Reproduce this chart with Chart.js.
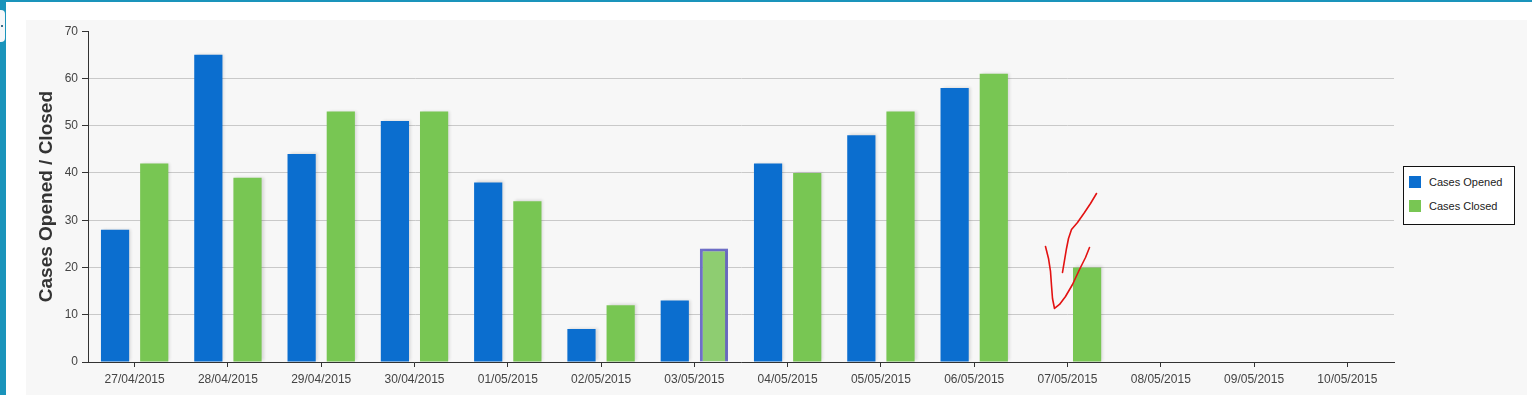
<!DOCTYPE html>
<html>
<head>
<meta charset="utf-8">
<script src="https://cdn.jsdelivr.net/npm/chart.js@4.4.1/dist/chart.umd.min.js"></script>
<style>
  html, body { margin: 0; padding: 0; background: #ffffff; width: 1532px; height: 395px; overflow: hidden; position: relative; font-family: "Liberation Sans", Arial, sans-serif; }
  #topbar { position: absolute; left: 0; top: 0; width: 1532px; height: 2px; background: #1a94bb; }
  #leftbar { position: absolute; left: 0; top: 0; width: 6px; height: 395px; background: #1a94bb; }
  #tab { position: absolute; left: 0; top: 10px; width: 5px; height: 32px; background: #f4f7f9; border-radius: 0 4px 4px 0; }
  #tab::after { content: ""; position: absolute; left: 1px; top: 15px; width: 2px; height: 2px; background: #3a6e8a; }
  #panel { position: absolute; left: 26px; top: 20px; width: 1501px; height: 375px; background: #f7f7f7; }
  #chart { position: absolute; left: 0; top: 0; }
  #legend { position: absolute; left: 1377px; top: 146px; width: 110px; height: 57px; border: 1px solid #111; background: #ffffff; }
  .item { position: absolute; left: 5px; height: 14px; font-size: 11px; color: #222; line-height: 14px; white-space: nowrap; }
  .sw { display: inline-block; width: 12px; height: 12px; vertical-align: -2px; margin-right: 8px; }
</style>
</head>
<body>
<div id="topbar"></div>
<div id="leftbar"></div>
<div id="tab"></div>
<div id="panel">
  <canvas id="chart" width="1501" height="375"></canvas>
  <div id="legend"></div>
</div>
<script>
const categories = ["27/04/2015","28/04/2015","29/04/2015","30/04/2015","01/05/2015","02/05/2015","03/05/2015","04/05/2015","05/05/2015","06/05/2015","07/05/2015","08/05/2015","09/05/2015","10/05/2015"];
const seriesNames = ["Cases Opened", "Cases Closed"];
const casesOpened = [28, 65, 44, 51, 38, 7, 13, 42, 48, 58, null, null, null, null];
const casesClosed = [42, 39, 53, 53, 34, 12, 24, 40, 53, 61, 20, null, null, null];
const yTicks = [0, 10, 20, 30, 40, 50, 60, 70];
const highlightIndex = 6;

const blue = "#0b6ecf";
const green = "#78c653";
const greenHi = "#8ecd71";
const hiBorder = "#6f6fc9";

const closedBg = casesClosed.map((v, i) => i === highlightIndex ? greenHi : green);
const closedBw = casesClosed.map((v, i) => i === highlightIndex ? 3 : 0);

const shadowPlugin = {
  id: "barShadow",
  beforeDatasetsDraw(chart) {
    const ctx = chart.ctx;
    ctx.save();
    ctx.shadowColor = "rgba(0,0,0,0.13)";
    ctx.shadowBlur = 3;
    ctx.shadowOffsetX = 2;
    ctx.shadowOffsetY = -1;
  },
  afterDatasetsDraw(chart) { chart.ctx.restore(); }
};

// hand-drawn red annotation (decorative scribble) anchored on the 07/05 category
const scribblePlugin = {
  id: "scribble",
  afterDraw(chart) {
    const x0 = chart.scales.x.getPixelForValue(10);
    const y0 = chart.scales.y.getPixelForValue(20);
    const strokes = [
      [[-22,-21],[-19,-9],[-17,4],[-16,18],[-15,31],[-13,41],[-8,37],[-2,29],[5,17],[12,2],[18,-10],[22,-20]],
      [[-5,5],[-3,-7],[-1,-19],[1,-29],[4,-38],[10,-45],[17,-55],[23,-64],[29,-74]]
    ];
    const ctx = chart.ctx;
    ctx.save();
    ctx.strokeStyle = "#e31212";
    ctx.lineWidth = 1.6;
    ctx.lineCap = "round";
    ctx.lineJoin = "round";
    strokes.forEach(s => {
      ctx.beginPath();
      s.forEach((p, i) => { const X = x0 + p[0], Y = y0 + p[1]; i ? ctx.lineTo(X, Y) : ctx.moveTo(X, Y); });
      ctx.stroke();
    });
    ctx.restore();
  }
};

Chart.defaults.font.family = '"Liberation Sans", Arial, sans-serif';
Chart.defaults.font.size = 12;
Chart.defaults.color = "#444";

new Chart(document.getElementById("chart"), {
  type: "bar",
  data: {
    labels: categories,
    datasets: [
      { label: seriesNames[0], data: casesOpened, backgroundColor: blue, borderWidth: 0, categoryPercentage: 0.84, barPercentage: 0.72 },
      { label: seriesNames[1], data: casesClosed, backgroundColor: closedBg, borderColor: hiBorder, borderWidth: closedBw, categoryPercentage: 0.84, barPercentage: 0.72 }
    ]
  },
  options: {
    responsive: false,
    animation: false,
    layout: { padding: { top: 11, right: 133, bottom: 0, left: 0 } },
    plugins: { legend: { display: false }, tooltip: { enabled: false } },
    scales: {
      x: {
        offset: true,
        grid: { offset: false, drawOnChartArea: false, drawTicks: true, tickLength: 5, tickColor: "#333", tickWidth: 1 },
        border: { color: "#333", width: 1 },
        ticks: { color: "#444", font: { size: 12 }, padding: 5, maxRotation: 0, autoSkip: false },
        afterFit(s) { s.height = 33; }
      },
      y: {
        min: 0, max: 70,
        afterBuildTicks(s) { s.ticks = yTicks.map(v => ({ value: v })); },
        grid: {
          color: ctx => (ctx.tick && ctx.tick.value === 70) ? "rgba(0,0,0,0)" : "#c9c9c9",
          tickColor: "#333", tickLength: 6, drawTicks: true, lineWidth: 1
        },
        border: { color: "#333", width: 1 },
        ticks: { color: "#444", font: { size: 12 }, padding: 4 },
        title: { display: true, text: "Cases Opened / Closed", color: "#333", font: { size: 19, weight: "bold" }, padding: { top: 9, bottom: 0 } },
        afterFit(s) { s.width = 62; }
      }
    }
  },
  plugins: [shadowPlugin, scribblePlugin]
});

const legend = document.getElementById("legend");
[[seriesNames[0], blue], [seriesNames[1], green]].forEach((it, i) => {
  const d = document.createElement("div");
  d.className = "item";
  d.style.top = (8 + i * 24) + "px";
  d.innerHTML = '<span class="sw" style="background:' + it[1] + '"></span>' + it[0];
  legend.appendChild(d);
});
</script>
</body>
</html>
